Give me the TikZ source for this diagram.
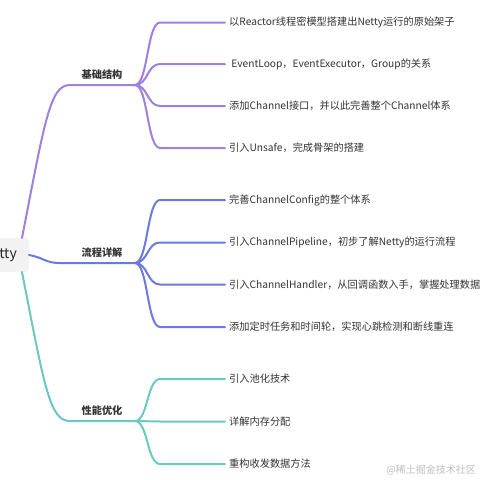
\documentclass[tikz,border=0pt]{standalone}
\usepackage{fontspec}
\setmainfont{Noto Sans CJK SC}
\begin{document}
\begin{tikzpicture}[x=1pt,y=-1pt,
  purp/.style={draw=cpurp,line width=2pt,line cap=round},
  blu/.style={draw=cblue,line width=2pt,line cap=round},
  teal/.style={draw=cteal,line width=2pt,line cap=round},
  leaf/.style={anchor=west,inner sep=0pt,font=\fontsize{10.2}{12}\selectfont,text=ctext},
  branch/.style={inner sep=0pt,font=\fontsize{10.2}{12}\selectfont\bfseries,text=ctext},
  ]
\definecolor{cpurp}{HTML}{9E80E0}
\definecolor{cblue}{HTML}{6A7BDD}
\definecolor{cteal}{HTML}{6CC8C1}
\definecolor{ctext}{HTML}{333333}
\definecolor{cbox}{HTML}{F1F2F1}
\useasboundingbox[fill=white] (0,0) rectangle (480,480);
% root
\fill[cbox,rounded corners=4pt] (-60,238) rectangle (29,272);
\node[anchor=east,inner sep=0pt,font=\fontsize{14}{16}\selectfont,text=black!85] (root) at (17,255) {Netty};
\coordinate (rtop) at (22,238);
\coordinate (rright) at (29,255);
\coordinate (rbot) at (22,272);
% branch hubs
\coordinate (p0) at (70,85);  \coordinate (p1) at (135,85);
\coordinate (b0) at (60,263); \coordinate (b1) at (135,263);
\coordinate (t0) at (70,421); \coordinate (t1) at (135,421);
\draw[purp] (rtop) .. controls (45,120) and (50,85) .. (p0) -- (p1);
\draw[blu] (rright) .. controls (45,258) and (45,263) .. (b0) -- (b1);
\draw[teal] (rbot) .. controls (45,390) and (50,421) .. (t0) -- (t1);
\node[branch] (lp) at (102,75) {基础结构};
\node[branch] (lb) at (102,253) {流程详解};
\node[branch] (lt) at (102,411) {性能优化};
% leaves
\foreach \y/\name/\txt/\st/\hub in {
  22.5/a1/{以Reactor线程密模型搭建出Netty运行的原始架子}/purp/p1,
  64/a2/{\ EventLoop，EventExecutor，Group的关系}/purp/p1,
  106/a3/{添加Channel接口，并以此完善整个Channel体系}/purp/p1,
  148/a4/{引入Unsafe，完成骨架的搭建}/purp/p1,
  200/c1/{完善ChannelConfig的整个体系}/blu/b1,
  242.5/c2/{引入ChannelPipeline，初步了解Netty的运行流程}/blu/b1,
  284.5/c3/{引入ChannelHandler，从回调函数入手，掌握处理数据}/blu/b1,
  327/c4/{添加定时任务和时间轮，实现心跳检测和断线重连}/blu/b1,
  379/d1/{引入池化技术}/teal/t1,
  421.5/d2/{详解内存分配}/teal/t1,
  464/d3/{重构收发数据方法}/teal/t1}{
  \node[leaf] (\name) at (229,\y) {\txt};
  \coordinate (\name e) at (160,\y);
  \coordinate (\name f) at (225,\y);
  \draw[\st] (\hub) .. controls ([xshift=13pt]\hub) and ([xshift=-13pt]\name e) .. (\name e) -- (\name f);
}
\node[anchor=east,inner sep=0pt,font=\fontsize{10}{12}\selectfont,text=black!25] (wm) at (476,470) {@稀土掘金技术社区};
\end{tikzpicture}
\end{document}
